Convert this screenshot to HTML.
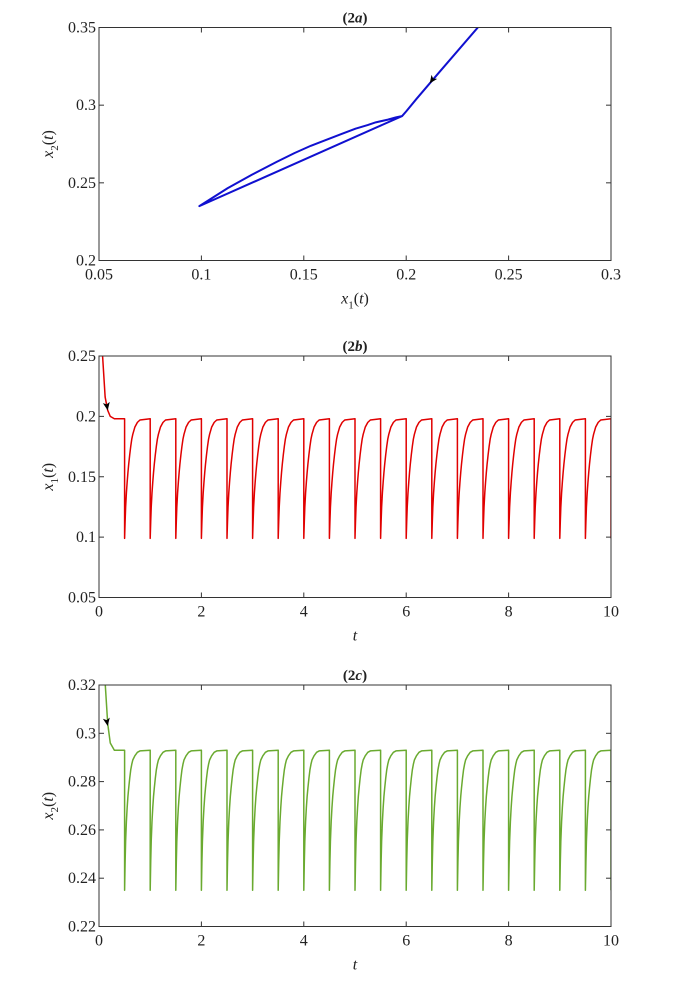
<!DOCTYPE html>
<html><head><meta charset="utf-8"><style>
html,body{margin:0;padding:0;background:#fff;}
svg text{font-family:"Liberation Serif",serif;fill:#222;}
</style></head><body>
<svg id="chart" width="682" height="976" viewBox="0 0 682 976" xmlns="http://www.w3.org/2000/svg"></svg>
<script>
// ---- data ----
const impulseTimes = [0.5,1,1.5,2,2.5,3,3.5,4,4.5,5,5.5,6,6.5,7,7.5,8,8.5,9,9.5,10];
const x1Peak = 0.198, x1Trough = 0.099;
const x2Peak = 0.293, x2Trough = 0.235;
const recDt = [0,0.01,0.02,0.035,0.05,0.065,0.08,0.1,0.12,0.14,0.16,0.2,0.25,0.3,0.5];
const recX1 = [0,0.14,0.26,0.38,0.47,0.55,0.62,0.7,0.77,0.83,0.87,0.93,0.97,0.99,1];
const recX2 = [0,0.2,0.35,0.49,0.59,0.67,0.73,0.8,0.86,0.9,0.93,0.96,0.985,0.995,1];
const transT = [0,0.07,0.12,0.17,0.22,0.3,0.4,0.5];
const transX1 = [0.30,0.25,0.216,0.205,0.2,0.198,0.198,0.198];
const transX2 = [0.45,0.373,0.321,0.304,0.296,0.293,0.293,0.293];
const ticksA_x = [0.05,0.1,0.15,0.2,0.25,0.3];
const ticksA_y = [0.2,0.25,0.3,0.35];
const ticksT = [0,2,4,6,8,10];
const ticksB_y = [0.05,0.1,0.15,0.2,0.25];
const ticksC_y = [0.22,0.24,0.26,0.28,0.3,0.32];

const NS="http://www.w3.org/2000/svg";
const svg=document.getElementById('chart');
function mk(tag,attrs,parent){const e=document.createElementNS(NS,tag);for(const k in attrs)e.setAttribute(k,attrs[k]);(parent||svg).appendChild(e);return e;}

function series(peak,trough,rec,trans){
  const pts=[];
  for(let i=0;i<transT.length;i++)pts.push([transT[i],trans[i]]);
  for(let k=0;k<impulseTimes.length;k++){
    const t0=impulseTimes[k];
    pts.push([t0,peak]);pts.push([t0,trough]);
    const next=k+1<impulseTimes.length?impulseTimes[k+1]:t0;
    for(let j=1;j<rec.length;j++){const t=t0+recDt[j];if(t>next+1e-9)break;pts.push([t,trough+rec[j]*(peak-trough)]);}
  }
  return pts;
}
const s1=series(x1Peak,x1Trough,recX1,transX1);
const s2=series(x2Peak,x2Trough,recX2,transX2);

let clipId=0;
function panel(o){
  const g=mk('g',{});
  
  
  const L=99,R=611,T=o.top,B=o.bottom;
  const sx=v=>L+(v-o.xmin)/(o.xmax-o.xmin)*(R-L);
  const sy=v=>B-(v-o.ymin)/(o.ymax-o.ymin)*(B-T);
  const cid='clip'+(clipId++);
  const cp=mk('clipPath',{id:cid},g);mk('rect',{x:L,y:T,width:R-L,height:B-T},cp);
  const d=o.pts.map((p,i)=>(i?'L':'M')+sx(p[0]).toFixed(2)+' '+sy(p[1]).toFixed(2)).join('');
  const line=mk('path',{d:d,fill:'none',stroke:o.color,'stroke-width':o.sw,'stroke-linejoin':'round','clip-path':'url(#'+cid+')'},g);
  
  
  const ax=sx(o.arrow[0]),ay=sy(o.arrow[1]),ang=o.arrow[2];
  const ar=mk('path',{d:'M0 0 L-8 -3.5 L-6 0 L-8 3.5 Z',fill:'#000',transform:`translate(${ax},${ay}) rotate(${ang})`},g);
  
  
  const box=mk('rect',{x:L,y:T,width:R-L,height:B-T,fill:'none',stroke:'#333','stroke-width':1},g);
  
  
  o.xt.forEach(v=>{const x=sx(v);
    mk('line',{x1:x,y1:B,x2:x,y2:B-5,stroke:'#333'},g);mk('line',{x1:x,y1:T,x2:x,y2:T+5,stroke:'#333'},g);
    const t=mk('text',{x:x,y:B+19,'text-anchor':'middle','font-size':16},g);t.textContent=String(v);
    
    
  });
  o.yt.forEach(v=>{const y=sy(v);
    mk('line',{x1:L,y1:y,x2:L+5,y2:y,stroke:'#333'},g);mk('line',{x1:R,y1:y,x2:R-5,y2:y,stroke:'#333'},g);
    const t=mk('text',{x:L-3,y:y+5,'text-anchor':'end','font-size':16},g);t.textContent=String(v);
    
    
  });
  const ti=mk('text',{x:(L+R)/2,y:T-5,'text-anchor':'middle','font-size':15,'font-weight':'bold'},g);
  ti.innerHTML=o.title;
  
  
  const xl=mk('text',{x:(L+R)/2,y:B+43,'text-anchor':'middle','font-size':16},g);
  xl.innerHTML=o.xlabel;
  
  
  const yl=mk('text',{x:0,y:0,'text-anchor':'middle','font-size':16,transform:`translate(53,${(T+B)/2}) rotate(-90)`},g);
  yl.innerHTML=o.ylabel;
  
  
}

const phase=s1.map((p,i)=>[p[1],s2[i][1]]);
panel({name:'phase-plot-2a',top:27.5,bottom:260.5,xmin:0.05,xmax:0.3,ymin:0.2,ymax:0.35,pts:phase,color:'#1010d0',sw:2,
  xt:ticksA_x,yt:ticksA_y,arrow:[0.2115,0.314,125],title:'(2<tspan font-style="italic">a</tspan>)',
  xlabel:'<tspan font-style="italic">x</tspan><tspan font-size="11" dy="5">1</tspan><tspan dy="-5">(</tspan><tspan font-style="italic">t</tspan>)',
  ylabel:'<tspan font-style="italic">x</tspan><tspan font-size="11" dy="5">2</tspan><tspan dy="-5">(</tspan><tspan font-style="italic">t</tspan>)'});
panel({name:'x1-timeseries-2b',top:356,bottom:597.5,xmin:0,xmax:10,ymin:0.05,ymax:0.25,pts:s1,color:'#e00000',sw:1.5,
  xt:ticksT,yt:ticksB_y,arrow:[0.17,0.205,80],title:'(2<tspan font-style="italic">b</tspan>)',
  xlabel:'<tspan font-style="italic">t</tspan>',
  ylabel:'<tspan font-style="italic">x</tspan><tspan font-size="11" dy="5">1</tspan><tspan dy="-5">(</tspan><tspan font-style="italic">t</tspan>)'});
panel({name:'x2-timeseries-2c',top:685,bottom:926.5,xmin:0,xmax:10,ymin:0.22,ymax:0.32,pts:s2,color:'#6aaa30',sw:1.5,
  xt:ticksT,yt:ticksC_y,arrow:[0.17,0.303,80],title:'(2<tspan font-style="italic">c</tspan>)',
  xlabel:'<tspan font-style="italic">t</tspan>',
  ylabel:'<tspan font-style="italic">x</tspan><tspan font-size="11" dy="5">2</tspan><tspan dy="-5">(</tspan><tspan font-style="italic">t</tspan>)'});
</script>
</body></html>
